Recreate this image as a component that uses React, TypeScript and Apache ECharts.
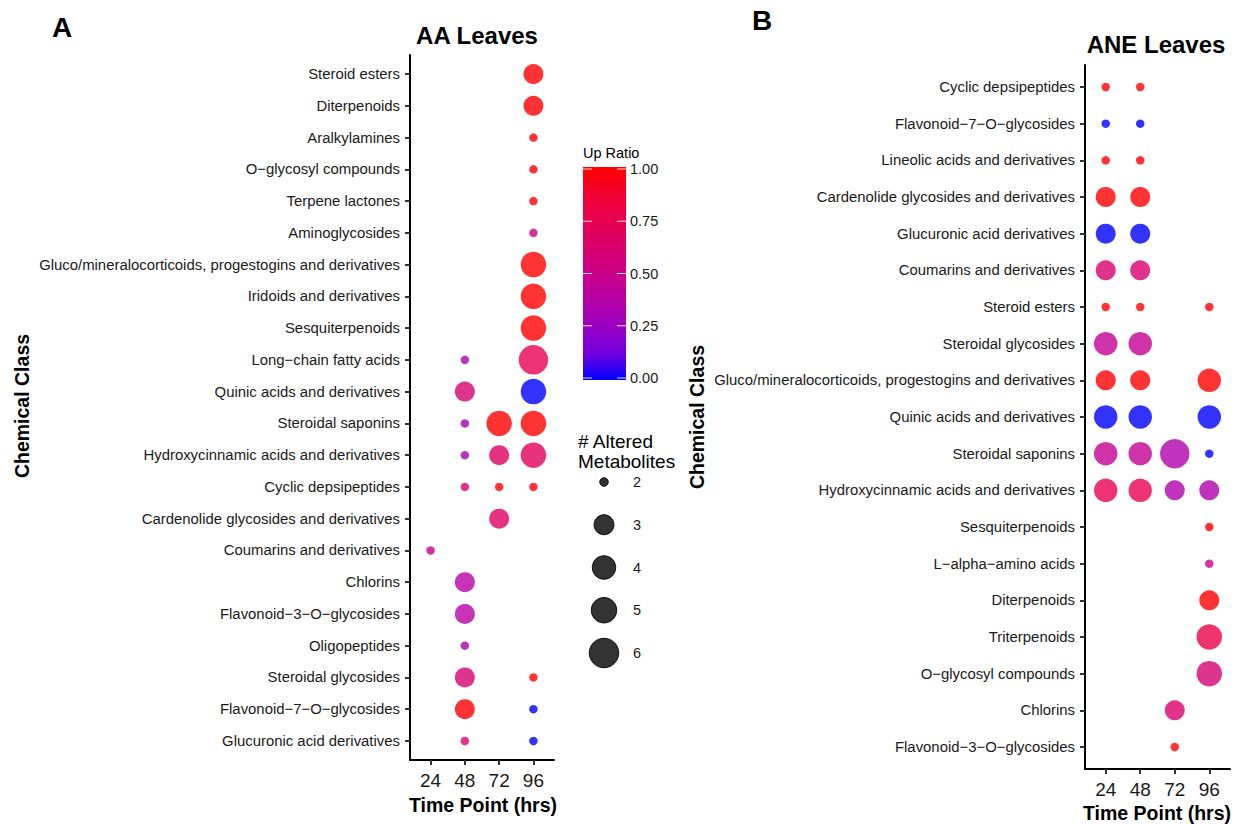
import React, { useEffect, useRef } from "react";
import * as echarts from "echarts";

// ---------- data ----------
const timeLabels = ["24", "48", "72", "96"];

const aaClasses = [
  "Steroid esters",
  "Diterpenoids",
  "Aralkylamines",
  "O−glycosyl compounds",
  "Terpene lactones",
  "Aminoglycosides",
  "Gluco/mineralocorticoids, progestogins and derivatives",
  "Iridoids and derivatives",
  "Sesquiterpenoids",
  "Long−chain fatty acids",
  "Quinic acids and derivatives",
  "Steroidal saponins",
  "Hydroxycinnamic acids and derivatives",
  "Cyclic depsipeptides",
  "Cardenolide glycosides and derivatives",
  "Coumarins and derivatives",
  "Chlorins",
  "Flavonoid−3−O−glycosides",
  "Oligopeptides",
  "Steroidal glycosides",
  "Flavonoid−7−O−glycosides",
  "Glucuronic acid derivatives",
];

// [class, time point, # altered metabolites, up ratio]
const aaPoints: [string, string, number, number][] = [
  ["Steroid esters", "96", 3, 1],
  ["Diterpenoids", "96", 3, 1],
  ["Aralkylamines", "96", 2, 1],
  ["O−glycosyl compounds", "96", 2, 1],
  ["Terpene lactones", "96", 2, 1],
  ["Aminoglycosides", "96", 2, 0.5],
  ["Gluco/mineralocorticoids, progestogins and derivatives", "96", 5, 1],
  ["Iridoids and derivatives", "96", 5, 1],
  ["Sesquiterpenoids", "96", 5, 1],
  ["Long−chain fatty acids", "48", 2, 0.33],
  ["Long−chain fatty acids", "96", 6, 0.75],
  ["Quinic acids and derivatives", "48", 3, 0.6],
  ["Quinic acids and derivatives", "96", 5, 0],
  ["Steroidal saponins", "48", 2, 0.3],
  ["Steroidal saponins", "72", 5, 1],
  ["Steroidal saponins", "96", 5, 1],
  ["Hydroxycinnamic acids and derivatives", "48", 2, 0.3],
  ["Hydroxycinnamic acids and derivatives", "72", 3, 0.67],
  ["Hydroxycinnamic acids and derivatives", "96", 5, 0.7],
  ["Cyclic depsipeptides", "48", 2, 0.62],
  ["Cyclic depsipeptides", "72", 2, 1],
  ["Cyclic depsipeptides", "96", 2, 1],
  ["Cardenolide glycosides and derivatives", "72", 3, 0.67],
  ["Coumarins and derivatives", "24", 2, 0.48],
  ["Chlorins", "48", 3, 0.38],
  ["Flavonoid−3−O−glycosides", "48", 3, 0.38],
  ["Oligopeptides", "48", 2, 0.3],
  ["Steroidal glycosides", "48", 3, 0.58],
  ["Steroidal glycosides", "96", 2, 1],
  ["Flavonoid−7−O−glycosides", "48", 3, 1],
  ["Flavonoid−7−O−glycosides", "96", 2, 0],
  ["Glucuronic acid derivatives", "48", 2, 0.62],
  ["Glucuronic acid derivatives", "96", 2, 0],
];

const aneClasses = [
  "Cyclic depsipeptides",
  "Flavonoid−7−O−glycosides",
  "Lineolic acids and derivatives",
  "Cardenolide glycosides and derivatives",
  "Glucuronic acid derivatives",
  "Coumarins and derivatives",
  "Steroid esters",
  "Steroidal glycosides",
  "Gluco/mineralocorticoids, progestogins and derivatives",
  "Quinic acids and derivatives",
  "Steroidal saponins",
  "Hydroxycinnamic acids and derivatives",
  "Sesquiterpenoids",
  "L−alpha−amino acids",
  "Diterpenoids",
  "Triterpenoids",
  "O−glycosyl compounds",
  "Chlorins",
  "Flavonoid−3−O−glycosides",
];

const anePoints: [string, string, number, number][] = [
  ["Cyclic depsipeptides", "24", 2, 1],
  ["Cyclic depsipeptides", "48", 2, 1],
  ["Flavonoid−7−O−glycosides", "24", 2, 0],
  ["Flavonoid−7−O−glycosides", "48", 2, 0],
  ["Lineolic acids and derivatives", "24", 2, 1],
  ["Lineolic acids and derivatives", "48", 2, 1],
  ["Cardenolide glycosides and derivatives", "24", 3, 1],
  ["Cardenolide glycosides and derivatives", "48", 3, 1],
  ["Glucuronic acid derivatives", "24", 3, 0],
  ["Glucuronic acid derivatives", "48", 3, 0],
  ["Coumarins and derivatives", "24", 3, 0.6],
  ["Coumarins and derivatives", "48", 3, 0.6],
  ["Steroid esters", "24", 2, 1],
  ["Steroid esters", "48", 2, 1],
  ["Steroid esters", "96", 2, 1],
  ["Steroidal glycosides", "24", 4, 0.45],
  ["Steroidal glycosides", "48", 4, 0.45],
  ["Gluco/mineralocorticoids, progestogins and derivatives", "24", 3, 1],
  ["Gluco/mineralocorticoids, progestogins and derivatives", "48", 3, 1],
  ["Gluco/mineralocorticoids, progestogins and derivatives", "96", 4, 1],
  ["Quinic acids and derivatives", "24", 4, 0],
  ["Quinic acids and derivatives", "48", 4, 0],
  ["Quinic acids and derivatives", "96", 4, 0],
  ["Steroidal saponins", "24", 4, 0.45],
  ["Steroidal saponins", "48", 4, 0.45],
  ["Steroidal saponins", "72", 6, 0.35],
  ["Steroidal saponins", "96", 2, 0],
  ["Hydroxycinnamic acids and derivatives", "24", 4, 0.75],
  ["Hydroxycinnamic acids and derivatives", "48", 4, 0.75],
  ["Hydroxycinnamic acids and derivatives", "72", 3, 0.35],
  ["Hydroxycinnamic acids and derivatives", "96", 3, 0.35],
  ["Sesquiterpenoids", "96", 2, 1],
  ["L−alpha−amino acids", "96", 2, 0.5],
  ["Diterpenoids", "96", 3, 1],
  ["Triterpenoids", "96", 5, 0.78],
  ["O−glycosyl compounds", "96", 5, 0.58],
  ["Chlorins", "72", 3, 0.62],
  ["Flavonoid−3−O−glycosides", "72", 2, 1],
];

const colorTicks = [0, 0.25, 0.5, 0.75, 1];
const sizeBreaks = [2, 3, 4, 5, 6];

// ---------- styling ----------
const FONT = "'Liberation Sans', Arial, sans-serif";
const gradientStops = [
  "#0000FF", "#7300E0", "#9A00C2", "#B500A5", "#CA0089",
  "#DA006C", "#E80050", "#F40031", "#FF0000",
];
const sizeMap: Record<number, number> = { 2: 8.5, 3: 20, 4: 23.5, 5: 25.5, 6: 29.5 };
const sizeOf = (n: number) => sizeMap[n] ?? 8 + (n - 2) * 5;

function toData(points: [string, string, number, number][], classes: string[]) {
  return points.map(([c, t, n, r]) => [timeLabels.indexOf(t), classes.indexOf(c), n, r]);
}

function makeAxes(gridIndex: number, classes: string[]) {
  const idxX = timeLabels.map((_, i) => i);
  const idxY = classes.map((_, i) => i);
  const x = {
    type: "value",
    gridIndex,
    min: -0.6,
    max: timeLabels.length - 1 + 0.6,
    splitLine: { show: false },
    axisLine: { show: true, onZero: false, lineStyle: { color: "#000", width: 2 } },
    axisTick: { show: true, length: 5, customValues: idxX, lineStyle: { color: "#333", width: 2 } },
    axisLabel: {
      customValues: idxX,
      formatter: (v: number) => timeLabels[Math.round(v)] ?? "",
      fontSize: 19,
      color: "#1a1a1a",
      fontFamily: FONT,
      margin: 11,
    },
  };
  const y = {
    type: "value",
    gridIndex,
    inverse: true,
    min: -0.6,
    max: classes.length - 1 + 0.6,
    splitLine: { show: false },
    axisLine: { show: true, onZero: false, lineStyle: { color: "#000", width: 2 } },
    axisTick: { show: true, length: 5, customValues: idxY, lineStyle: { color: "#333", width: 2 } },
    axisLabel: {
      customValues: idxY,
      formatter: (v: number) => classes[Math.round(v)] ?? "",
      fontSize: 14.9,
      color: "#1a1a1a",
      fontFamily: FONT,
      margin: 10,
    },
  };
  return { x, y };
}

export default function App() {
  const ref = useRef<HTMLDivElement>(null);

  useEffect(() => {
    if (!ref.current) return;
    const chart = echarts.init(ref.current, null, { renderer: "svg" });

    const a = makeAxes(0, aaClasses);
    const b = makeAxes(1, aneClasses);

    // colour bar geometry
    const barX = 583, barW = 43, barTop = 167, barBot = 380;
    const tickTop = 169, tickBot = 378;
    const yOfRatio = (v: number) => tickBot - v * (tickBot - tickTop);

    const graphics: any[] = [
      { type: "text", x: 62, y: 27, style: { text: "A", fontSize: 28, fontWeight: "bold", fontFamily: FONT, fill: "#000", align: "center", verticalAlign: "middle" } },
      { type: "text", x: 762, y: 20, style: { text: "B", fontSize: 28, fontWeight: "bold", fontFamily: FONT, fill: "#000", align: "center", verticalAlign: "middle" } },
      { type: "text", x: 477, y: 35, style: { text: "AA Leaves", fontSize: 24, fontWeight: "bold", fontFamily: FONT, fill: "#000", align: "center", verticalAlign: "middle" } },
      { type: "text", x: 1156, y: 44, style: { text: "ANE Leaves", fontSize: 24, fontWeight: "bold", fontFamily: FONT, fill: "#000", align: "center", verticalAlign: "middle" } },
      { type: "text", x: 483, y: 805, style: { text: "Time Point (hrs)", fontSize: 19.5, fontWeight: "bold", fontFamily: FONT, fill: "#000", align: "center", verticalAlign: "middle" } },
      { type: "text", x: 1157, y: 813, style: { text: "Time Point (hrs)", fontSize: 19.5, fontWeight: "bold", fontFamily: FONT, fill: "#000", align: "center", verticalAlign: "middle" } },
      { type: "text", x: 22, y: 406, rotation: Math.PI / 2, style: { text: "Chemical Class", fontSize: 19.5, fontWeight: "bold", fontFamily: FONT, fill: "#000", align: "center", verticalAlign: "middle" } },
      { type: "text", x: 697, y: 417, rotation: Math.PI / 2, style: { text: "Chemical Class", fontSize: 19.5, fontWeight: "bold", fontFamily: FONT, fill: "#000", align: "center", verticalAlign: "middle" } },
      // colour legend
      { type: "text", x: barX, y: 153, style: { text: "Up Ratio", fontSize: 14.5, fontFamily: FONT, fill: "#000", align: "left", verticalAlign: "middle" } },
      {
        type: "rect",
        shape: { x: barX, y: barTop, width: barW, height: barBot - barTop },
        style: {
          fill: new echarts.graphic.LinearGradient(0, 0, 0, 1,
            gradientStops.slice().reverse().map((c, i, arr) => ({ offset: i / (arr.length - 1), color: c }))),
        },
      },
    ];
    colorTicks.forEach((v) => {
      const y = yOfRatio(v);
      graphics.push({ type: "line", shape: { x1: barX, y1: y, x2: barX + 9, y2: y }, style: { stroke: "rgba(255,255,255,0.85)", lineWidth: 1 } });
      graphics.push({ type: "line", shape: { x1: barX + barW - 9, y1: y, x2: barX + barW, y2: y }, style: { stroke: "rgba(255,255,255,0.85)", lineWidth: 1 } });
      graphics.push({ type: "text", x: 630, y, style: { text: v.toFixed(2), fontSize: 14.5, fontFamily: FONT, fill: "#1a1a1a", align: "left", verticalAlign: "middle" } });
    });
    // size legend
    graphics.push({ type: "text", x: 578, y: 441, style: { text: "# Altered", fontSize: 19, fontFamily: FONT, fill: "#000", align: "left", verticalAlign: "middle" } });
    graphics.push({ type: "text", x: 578, y: 461, style: { text: "Metabolites", fontSize: 19, fontFamily: FONT, fill: "#000", align: "left", verticalAlign: "middle" } });
    sizeBreaks.forEach((n, i) => {
      const cy = 482 + i * 42.75;
      graphics.push({ type: "circle", shape: { cx: 604, cy, r: sizeOf(n) / 2 }, style: { fill: "rgba(0,0,0,0.8)", stroke: "rgba(0,0,0,0.9)", lineWidth: 1 } });
      graphics.push({ type: "text", x: 633, y: cy, style: { text: String(n), fontSize: 14.5, fontFamily: FONT, fill: "#1a1a1a", align: "left", verticalAlign: "middle" } });
    });

    chart.setOption({
      animation: false,
      backgroundColor: "#fff",
      grid: [
        { left: 410, top: 55, width: 144, height: 705 },
        { left: 1085, top: 65, width: 145, height: 704 },
      ],
      xAxis: [a.x, b.x],
      yAxis: [a.y, b.y],
      visualMap: {
        type: "continuous",
        show: false,
        min: 0,
        max: 1,
        dimension: 3,
        seriesIndex: [0, 1],
        inRange: { color: gradientStops },
      },
      series: [
        {
          type: "scatter",
          xAxisIndex: 0,
          yAxisIndex: 0,
          data: toData(aaPoints, aaClasses),
          symbolSize: (v: number[]) => sizeOf(v[2]),
          itemStyle: { opacity: 0.8 },
        },
        {
          type: "scatter",
          xAxisIndex: 1,
          yAxisIndex: 1,
          data: toData(anePoints, aneClasses),
          symbolSize: (v: number[]) => sizeOf(v[2]),
          itemStyle: { opacity: 0.8 },
        },
      ],
      graphic: graphics,
    });

    return () => chart.dispose();
  }, []);

  return (
    <div
      ref={ref}
      style={{ position: "absolute", left: 0, top: 0, width: 1236, height: 824 }}
    />
  );
}
